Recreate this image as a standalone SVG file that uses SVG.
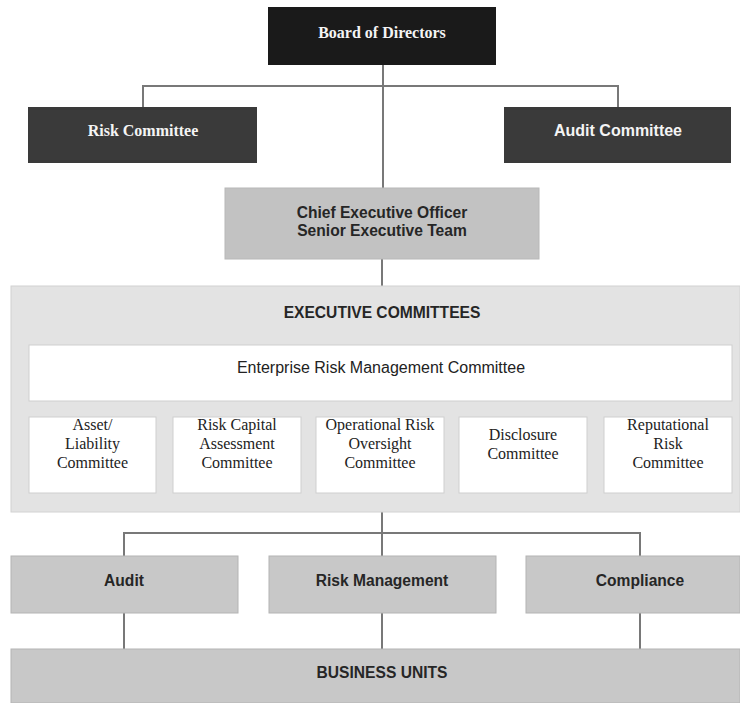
<svg xmlns="http://www.w3.org/2000/svg" width="740" height="703" viewBox="0 0 740 703">
<style>
.sans{font-family:"Liberation Sans",Arial,sans-serif;text-anchor:middle}
.serif{font-family:"Liberation Serif","Times New Roman",serif;text-anchor:middle}
.dark{fill:#1a1a1a}
.mid{fill:#3a3a3a}
.wt{fill:#f4f4f4;font-weight:bold;font-size:16px}
.gry{fill:#c8c8c8;stroke:#b4b4b4;stroke-width:1}
.lbl{fill:#262626;font-weight:bold;font-size:15.6px}
.wbox{fill:#ffffff;stroke:#cfcfcf;stroke-width:1}
.small{fill:#222;font-size:16px}
.conn{fill:none;stroke:#787878;stroke-width:2}
</style>
<rect width="740" height="703" fill="#ffffff"/>
<g id="connectors">
<path class="conn" d="M383 65V188M143 107V86H618V107"/>
<path class="conn" d="M382 259V286"/>
<path class="conn" d="M382 512V556M124 556V533H640V556"/>
<path class="conn" d="M124 613V649M382 613V649M640 613V649"/>
</g>
<g id="board">
<rect class="dark" x="268" y="7" width="228" height="58"/>
<text class="serif wt" x="382" y="38">Board of Directors</text>
</g>
<g id="risk-committee">
<rect class="mid" x="28" y="107" width="229" height="56"/>
<text class="serif wt" x="143" y="136">Risk Committee</text>
</g>
<g id="audit-committee">
<rect class="mid" x="504" y="107" width="227" height="56"/>
<text class="sans wt" x="618" y="136">Audit Committee</text>
</g>
<g id="ceo">
<rect x="225" y="188" width="314" height="71" fill="#c2c2c2" stroke="#b8b8b8" stroke-width="1"/>
<text class="sans lbl" x="382" y="218">Chief Executive Officer</text>
<text class="sans lbl" x="382" y="236">Senior Executive Team</text>
</g>
<g id="executive-committees">
<rect x="11" y="286" width="729" height="226" fill="#e3e3e3" stroke="#d2d2d2" stroke-width="1"/>
<text class="sans lbl" x="382" y="318">EXECUTIVE COMMITTEES</text>
</g>
<g id="erm">
<rect class="wbox" x="29" y="345" width="703" height="56"/>
<text class="sans" x="381" y="373" font-size="16" fill="#222">Enterprise Risk Management Committee</text>
</g>
<g id="alco">
<rect class="wbox" x="29" y="417" width="127" height="76"/>
<text class="serif small" x="92.5" y="430">Asset/</text>
<text class="serif small" x="92.5" y="449">Liability</text>
<text class="serif small" x="92.5" y="468">Committee</text>
</g>
<g id="rcac">
<rect class="wbox" x="173" y="417" width="128" height="76"/>
<text class="serif small" x="237" y="430">Risk Capital</text>
<text class="serif small" x="237" y="449">Assessment</text>
<text class="serif small" x="237" y="468">Committee</text>
</g>
<g id="oroc">
<rect class="wbox" x="316" y="417" width="128" height="76"/>
<text class="serif small" x="380" y="430">Operational Risk</text>
<text class="serif small" x="380" y="449">Oversight</text>
<text class="serif small" x="380" y="468">Committee</text>
</g>
<g id="disclosure">
<rect class="wbox" x="459" y="417" width="128" height="76"/>
<text class="serif small" x="523" y="440">Disclosure</text>
<text class="serif small" x="523" y="459">Committee</text>
</g>
<g id="reputational">
<rect class="wbox" x="604" y="417" width="128" height="76"/>
<text class="serif small" x="668" y="430">Reputational</text>
<text class="serif small" x="668" y="449">Risk</text>
<text class="serif small" x="668" y="468">Committee</text>
</g>
<g id="audit">
<rect class="gry" x="11" y="556" width="227" height="57"/>
<text class="sans lbl" x="124" y="586">Audit</text>
</g>
<g id="risk-management">
<rect class="gry" x="269" y="556" width="227" height="57"/>
<text class="sans lbl" x="382" y="586">Risk Management</text>
</g>
<g id="compliance">
<rect class="gry" x="526" y="556" width="214" height="57"/>
<text class="sans lbl" x="640" y="586">Compliance</text>
</g>
<g id="business-units">
<rect class="gry" x="11" y="649" width="729" height="54"/>
<text class="sans lbl" x="382" y="678">BUSINESS UNITS</text>
</g>
</svg>
